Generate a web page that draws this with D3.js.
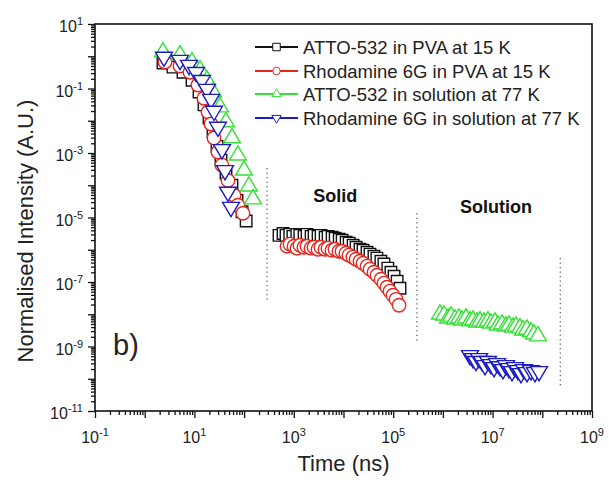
<!DOCTYPE html>
<html>
<head>
<meta charset="utf-8">
<script src="https://cdn.jsdelivr.net/npm/d3@7"></script>
<style>
  html, body { margin: 0; padding: 0; background: #fff; }
  svg { display: block; font-family: Arial, "Liberation Sans", sans-serif; }
</style>
</head>
<body>
<div id="chart"></div>
<script>
// Data ------------------------------------------------------------------------------------------------------------------
const seriesNames = [
  "ATTO-532 in PVA at 15 K",
  "Rhodamine 6G in PVA at 15 K",
  "ATTO-532 in solution at 77 K",
  "Rhodamine 6G in solution at 77 K"
];
const seriesColors = ["#111111", "#e3261e", "#33e033", "#1c1cc4"];
const seriesShapes = ["square", "circle", "triUp", "triDown"];

// ATTO-532 in PVA at 15 K (time ns, normalised intensity)
const attoPvaTime = [2.33, 3.7, 5.9, 8.95, 12.4, 15.6, 19.7, 23.7, 28.5, 34.3, 43.2, 57, 72, 91, 110,
  504, 607, 697, 830, 960, 1150, 1320, 1610, 1850, 2230, 2560, 3080, 3540, 4270, 4900, 5900, 6800, 8200,
  9400, 11300, 13000, 15600, 17900, 21500, 24700, 29700, 34100, 41000, 47000, 56600, 65000, 78000,
  90000, 104000, 120000, 137000];
const attoPvaInt = [0.62, 0.46, 0.32, 0.18, 0.078, 0.031, 0.0121, 4.5e-3, 1.6e-3, 6.0e-4, 2.4e-4, 1.0e-4, 3.4e-5, 1.5e-5, 7.8e-6,
  2.8e-6, 3.2e-6, 2.8e-6, 3.0e-6, 2.6e-6, 3.0e-6, 2.8e-6, 2.6e-6, 3.0e-6, 2.6e-6, 2.8e-6, 2.6e-6, 2.8e-6, 2.45e-6, 2.6e-6,
  2.45e-6, 2.28e-6, 2.12e-6, 1.98e-6, 1.71e-6, 1.6e-6, 1.38e-6, 1.2e-6, 1.04e-6, 9.7e-7, 8.4e-7, 7.3e-7, 6.3e-7, 5.5e-7,
  4.4e-7, 3.6e-7, 2.7e-7, 2.0e-7, 1.5e-7, 1.06e-7, 6.4e-8];

// Rhodamine 6G in PVA at 15 K
const r6gPvaTime = [2.56, 5.13, 8.15, 11.8, 15.6, 18.8, 21.6, 24.8, 29.8, 35.9, 47.4, 62.7, 75, 95,
  730, 840, 1010, 1160, 1330, 1600, 1840, 2220, 2550, 3070, 3520, 4240, 4870, 5860, 6740, 8110, 9330,
  11200, 12900, 15500, 17900, 21500, 24700, 29700, 34100, 41100, 47200, 56900, 65300, 75000, 86100,
  99000, 114000, 131000];
const r6gPvaInt = [0.66, 0.50, 0.32, 0.128, 0.050, 0.0186, 7.9e-3, 2.9e-3, 1.07e-3, 4.2e-4, 1.4e-4, 4.9e-5, 2.4e-5, 1.35e-5,
  1.29e-6, 1.49e-6, 1.29e-6, 1.12e-6, 1.38e-6, 1.2e-6, 1.29e-6, 1.12e-6, 1.2e-6, 1.04e-6, 1.2e-6, 1.04e-6, 1.12e-6,
  9.7e-7, 1.04e-6, 9.0e-7, 9.0e-7, 7.8e-7, 6.8e-7, 5.9e-7, 5.1e-7, 4.4e-7, 3.8e-7, 3.1e-7, 2.5e-7, 2.0e-7, 1.62e-7,
  1.22e-7, 9.2e-8, 6.9e-8, 5.2e-8, 3.9e-8, 2.9e-8, 1.9e-8];

// ATTO-532 in solution at 77 K
const attoSolTime = [2.33, 5.13, 8.95, 13, 17.9, 23.7, 32.7, 43.2, 57, 75, 99.5, 125, 151,
  8.74e5, 1.05e6, 1.27e6, 1.46e6, 1.75e6, 2.11e6, 2.42e6, 2.92e6, 3.51e6, 4.03e6, 4.85e6, 5.58e6, 6.71e6,
  8.07e6, 9.28e6, 1.12e7, 1.28e7, 1.55e7, 1.86e7, 2.14e7, 2.57e7, 2.96e7, 3.56e7, 4.09e7, 4.92e7, 5.93e7,
  6.81e7, 8.19e7];
const attoSolInt = [1.35, 1.09, 0.66, 0.37, 0.18, 0.078, 0.0265, 9.1e-3, 2.9e-3, 8.5e-4, 2.9e-4, 9.3e-5, 3.7e-5,
  1.0e-8, 9.3e-9, 7.5e-9, 8.6e-9, 7.0e-9, 7.5e-9, 6.5e-9, 7.5e-9, 6.1e-9, 6.5e-9, 5.6e-9, 6.1e-9, 5.6e-9,
  6.1e-9, 5.2e-9, 5.6e-9, 4.5e-9, 4.9e-9, 4.2e-9, 4.5e-9, 3.9e-9, 4.2e-9, 3.7e-9, 3.2e-9, 3.4e-9, 2.8e-9,
  2.4e-9, 2.1e-9];

// Rhodamine 6G in solution at 77 K
const r6gSolTime = [2.44, 5.13, 7.8, 10.8, 14.2, 17.9, 21.6, 24.8, 29.8, 35.9, 41.3, 47.4, 54.5,
  3.51e6, 4.03e6, 4.63e6, 5.33e6, 6.12e6, 7.03e6, 8.07e6, 9.28e6, 1.07e7, 1.23e7, 1.41e7, 1.62e7, 1.86e7,
  2.14e7, 2.46e7, 2.82e7, 3.24e7, 3.73e7, 4.28e7, 4.92e7, 5.93e7, 7.13e7, 8.59e7];
const r6gSolInt = [0.95, 0.76, 0.53, 0.32, 0.18, 0.096, 0.047, 0.020, 6.4e-3, 1.3e-3, 2.9e-4, 6.2e-5, 2.1e-5,
  5.3e-10, 4.3e-10, 3.5e-10, 4.3e-10, 3.5e-10, 2.6e-10, 3.5e-10, 2.8e-10, 2.26e-10, 3.0e-10, 2.4e-10, 1.96e-10,
  2.6e-10, 2.1e-10, 1.7e-10, 2.26e-10, 1.82e-10, 1.47e-10, 1.96e-10, 1.58e-10, 1.82e-10, 1.58e-10, 1.7e-10];

// Dotted separators [time, from intensity, to intensity]
const separators = [[290, 3.4e-4, 2.7e-8], [3.0e5, 1.35e-5, 1.35e-9], [2.3e8, 5.5e-7, 5.4e-11]];
const regionLabels = [["Solid", 6800, 3.0e-5], ["Solution", 1.17e7, 1.35e-5]];

// Canvas ---------------------------------------------------------------------------------------------------------------
const canvasWidth = 609;
const canvasHeight = 483;
const plotLeft = 95, plotRight = 592, plotTop = 24, plotBottom = 411;

const svg = d3.select("#chart")
  .append("svg")
  .attr("width", canvasWidth)
  .attr("height", canvasHeight);

const xScale = d3.scaleLog().domain([1e-1, 1e9]).range([plotLeft, plotRight]);
const yScale = d3.scaleLog().domain([1e-11, 1e1]).range([plotBottom, plotTop]);

// Axes -----------------------------------------------------------------------------------------------------------------
const xDecades = d3.range(-1, 10);
const yDecades = d3.range(-11, 2);
const minorOf = decs => decs.slice(0, -1).flatMap(e => d3.range(2, 10).map(m => m * Math.pow(10, e)));

svg.append("g")
  .attr("transform", "translate(0," + plotBottom + ")")
  .call(d3.axisBottom(xScale).tickValues(minorOf(xDecades)).tickSize(4).tickFormat(""))
  .call(g => g.select(".domain").remove());
svg.append("g")
  .attr("transform", "translate(0," + plotBottom + ")")
  .call(d3.axisBottom(xScale).tickValues(xDecades.map(e => Math.pow(10, e))).tickSize(7).tickFormat(""))
  .call(g => g.select(".domain").remove());
svg.append("g")
  .attr("transform", "translate(" + plotLeft + ",0)")
  .call(d3.axisLeft(yScale).tickValues(minorOf(yDecades)).tickSize(4).tickFormat(""))
  .call(g => g.select(".domain").remove());
svg.append("g")
  .attr("transform", "translate(" + plotLeft + ",0)")
  .call(d3.axisLeft(yScale).tickValues(yDecades.map(e => Math.pow(10, e))).tickSize(7).tickFormat(""))
  .call(g => g.select(".domain").remove());
svg.selectAll(".tick line").style("stroke", "#111").style("stroke-width", 1.3);

// frame
svg.append("rect")
  .attr("x", plotLeft).attr("y", plotTop)
  .attr("width", plotRight - plotLeft).attr("height", plotBottom - plotTop)
  .attr("fill", "none").attr("stroke", "#111").attr("stroke-width", 1.6);

// tick labels with superscripts
const powLabel = function(sel, exp) {
  sel.append("tspan").text("10");
  sel.append("tspan").attr("dy", -7).style("font-size", "11px").text(exp);
};
xDecades.filter(e => (e + 1) % 2 === 0).forEach(function(e) {
  svg.append("text")
    .attr("x", xScale(Math.pow(10, e)))
    .attr("y", plotBottom + 32)
    .attr("text-anchor", "middle")
    .style("font-size", "16px").attr("fill", "#222")
    .call(powLabel, e);
});
yDecades.filter(e => (e + 11) % 2 === 0).forEach(function(e) {
  svg.append("text")
    .attr("x", 83)
    .attr("y", yScale(Math.pow(10, e)) + 8)
    .attr("text-anchor", "end")
    .style("font-size", "16px").attr("fill", "#222")
    .call(powLabel, e);
});

svg.append("text")
  .text("Time (ns)")
  .attr("x", (plotLeft + plotRight) / 2).attr("y", 471)
  .attr("text-anchor", "middle")
  .style("font-size", "22px").attr("fill", "#222");
svg.append("text")
  .text("Normalised Intensity (A.U.)")
  .attr("transform", "translate(33," + 231 + ") rotate(-90)")
  .attr("text-anchor", "middle")
  .style("font-size", "22px").attr("fill", "#222");

svg.append("text")
  .text("b)")
  .attr("x", 113).attr("y", 355)
  .style("font-size", "29px").attr("fill", "#222");

// separators and region labels
svg.selectAll(".sep")
  .data(separators)
  .join("line")
  .attr("class", "sep")
  .attr("x1", d => xScale(d[0])).attr("x2", d => xScale(d[0]))
  .attr("y1", d => yScale(d[1])).attr("y2", d => yScale(d[2]))
  .attr("stroke", "#555").attr("stroke-width", 1.2).attr("stroke-dasharray", "1.2,3.3");

svg.selectAll(".region")
  .data(regionLabels)
  .join("text")
  .attr("class", "region")
  .attr("x", d => xScale(d[1])).attr("y", d => yScale(d[2]))
  .attr("text-anchor", "middle")
  .style("font-size", "18px").style("font-weight", "bold").attr("fill", "#111")
  .text(d => d[0]);

// Markers --------------------------------------------------------------------------------------------------------------
const markerPath = function(shape, s) {
  if (shape === "square") {
    return "M" + (-s / 2) + "," + (-s / 2) + "h" + s + "v" + s + "h" + (-s) + "Z";
  }
  if (shape === "circle") {
    const r = s / 2;
    return "M" + r + ",0A" + r + "," + r + " 0 1,1 " + (-r) + ",0A" + r + "," + r + " 0 1,1 " + r + ",0Z";
  }
  const w = s * 1.25, h = s * 1.05;
  if (shape === "triUp") {
    return "M0," + (-2 * h / 3) + "L" + (w / 2) + "," + (h / 3) + "L" + (-w / 2) + "," + (h / 3) + "Z";
  }
  return "M0," + (2 * h / 3) + "L" + (w / 2) + "," + (-h / 3) + "L" + (-w / 2) + "," + (-h / 3) + "Z";
};

const allSeries = [
  [attoPvaTime, attoPvaInt, 11.5],
  [r6gPvaTime, r6gPvaInt, 13.5],
  [attoSolTime, attoSolInt, 13.5],
  [r6gSolTime, r6gSolInt, 13.5]
];

const chartGroup = svg.append("g");
allSeries.forEach(function(ser, i) {
  const pts = ser[0].map((t, k) => [t, ser[1][k]]);
  chartGroup.append("g")
    .selectAll("path")
    .data(pts)
    .join("path")
    .attr("transform", d => "translate(" + xScale(d[0]) + "," + yScale(d[1]) + ")")
    .attr("d", markerPath(seriesShapes[i], ser[2]))
    .attr("fill", "#fff")
    .attr("stroke", seriesColors[i])
    .attr("stroke-width", 1.4);
});

// Legend ---------------------------------------------------------------------------------------------------------------
const legendRows = [47, 71, 94, 118];
const legend = svg.append("g");
seriesNames.forEach(function(name, i) {
  const row = legend.append("g").attr("transform", "translate(0," + legendRows[i] + ")");
  row.append("line")
    .attr("x1", 255).attr("x2", 298).attr("y1", 0).attr("y2", 0)
    .attr("stroke", seriesColors[i]).attr("stroke-width", 2);
  row.append("path")
    .attr("transform", "translate(276.5,0)")
    .attr("d", markerPath(seriesShapes[i], 7.5))
    .attr("fill", "#fff").attr("stroke", seriesColors[i]).attr("stroke-width", 1);
  row.append("text")
    .text(name)
    .attr("x", 303).attr("y", 6.5)
    .style("font-size", "18.5px").attr("fill", "#222");
});
</script>
</body>
</html>
